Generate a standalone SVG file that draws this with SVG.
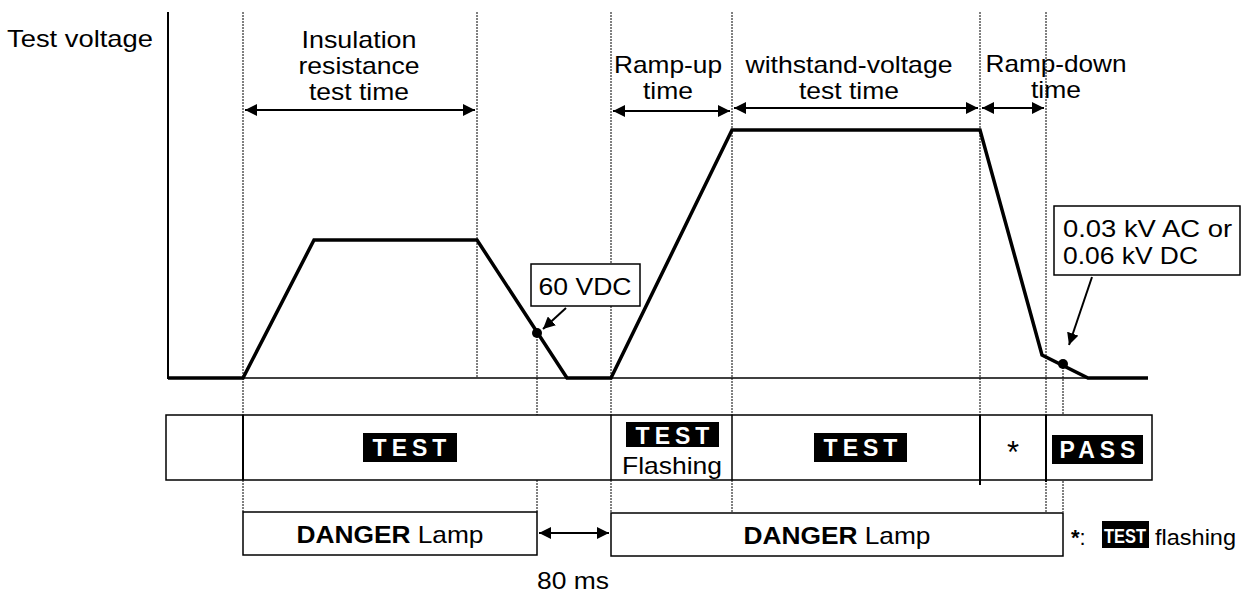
<svg xmlns="http://www.w3.org/2000/svg" width="1255" height="595" viewBox="0 0 1255 595">
<style>
text{font-family:"Liberation Sans",Arial,sans-serif;fill:#000}
.t{font-size:24px}
.c{text-anchor:middle}
.b{font-weight:bold}
.inv{fill:#fff;font-weight:bold;font-size:23px;letter-spacing:5px}
.dash{stroke:#000;stroke-width:1;stroke-dasharray:2 1;fill:none}
.thin{stroke:#000;stroke-width:1.5;fill:none}
.wave{stroke:#000;stroke-width:3.5;fill:none;stroke-linejoin:miter}
.box{fill:#fff;stroke:#000;stroke-width:1.5}
.dim{stroke:#000;stroke-width:2;fill:none;marker-start:url(#ah);marker-end:url(#ah)}
.lead{stroke:#000;stroke-width:2;fill:none;marker-end:url(#ah)}
</style>
<defs>
<marker id="ah" viewBox="0 0 10 10" refX="10" refY="5" markerWidth="6" markerHeight="6" orient="auto-start-reverse" markerUnits="strokeWidth">
<path d="M0,0 L10,5 L0,10 z" fill="#000"/>
</marker>
</defs>
<rect width="1255" height="595" fill="#fff"/>

<g id="guides">
<line class="dash" x1="243" y1="12" x2="243" y2="512"/>
<line class="dash" x1="477" y1="12" x2="477" y2="378"/>
<line class="dash" x1="537" y1="333" x2="537" y2="512"/>
<line class="dash" x1="611" y1="12" x2="611" y2="512"/>
<line class="dash" x1="732" y1="12" x2="732" y2="512"/>
<line class="dash" x1="980" y1="12" x2="980" y2="415"/>
<line class="dash" x1="1046" y1="12" x2="1046" y2="512"/>
<line class="dash" x1="1063" y1="364" x2="1063" y2="512"/>
</g>

<g id="axes">
<line x1="168" y1="12" x2="168" y2="379" stroke="#000" stroke-width="2"/>
<line class="thin" x1="168" y1="378" x2="1148" y2="378"/>
<text class="t" x="7" y="47" textLength="146" lengthAdjust="spacingAndGlyphs">Test voltage</text>
</g>

<g id="waveform">
<polyline class="wave" points="168,378 243,378 314,240 477,240 567,378 611,378 732,130 980,130 1042,355 1088,378 1148,378"/>
<circle cx="537" cy="333" r="5"/>
<circle cx="1063" cy="364" r="5"/>
</g>

<g id="connectors">
<line class="dim" x1="245" y1="110" x2="475" y2="110"/>
<line class="dim" x1="613" y1="111" x2="730" y2="111"/>
<line class="dim" x1="734" y1="108" x2="978" y2="108"/>
<line class="dim" x1="982" y1="108" x2="1044" y2="108"/>
<line class="lead" x1="566" y1="308" x2="543" y2="329"/>
<line class="lead" x1="1092" y1="277" x2="1069" y2="345"/>
<line class="dim" x1="539" y1="533" x2="609" y2="533"/>
</g>

<g id="label-ir">
<text class="t c" x="359" y="48" textLength="115" lengthAdjust="spacingAndGlyphs">Insulation</text>
<text class="t c" x="359" y="74" textLength="121" lengthAdjust="spacingAndGlyphs">resistance</text>
<text class="t c" x="359" y="100" textLength="100" lengthAdjust="spacingAndGlyphs">test time</text>
</g>
<g id="label-rampup">
<text class="t c" x="668" y="73" textLength="108" lengthAdjust="spacingAndGlyphs">Ramp-up</text>
<text class="t c" x="668" y="99" textLength="50" lengthAdjust="spacingAndGlyphs">time</text>
</g>
<g id="label-withstand">
<text class="t c" x="849" y="73" textLength="207" lengthAdjust="spacingAndGlyphs">withstand-voltage</text>
<text class="t c" x="849" y="99" textLength="100" lengthAdjust="spacingAndGlyphs">test time</text>
</g>
<g id="label-rampdown">
<text class="t c" x="1056" y="72" textLength="141" lengthAdjust="spacingAndGlyphs">Ramp-down</text>
<text class="t c" x="1056" y="98" textLength="50" lengthAdjust="spacingAndGlyphs">time</text>
</g>

<g id="note-60vdc">
<rect class="box" x="531" y="264" width="109" height="42"/>
<text class="t c" x="585" y="295" textLength="93" lengthAdjust="spacingAndGlyphs">60 VDC</text>
</g>
<g id="note-threshold">
<rect class="box" x="1054" y="206" width="186" height="69"/>
<text class="t" x="1063" y="237" textLength="169" lengthAdjust="spacingAndGlyphs">0.03 kV AC or</text>
<text class="t" x="1063" y="264" textLength="135" lengthAdjust="spacingAndGlyphs">0.06 kV DC</text>
</g>

<g id="status-bar">
<rect class="box" x="166" y="415" width="986" height="65"/>
<line stroke="#000" stroke-width="2" x1="243" y1="415" x2="243" y2="480"/>
<line stroke="#000" stroke-width="1.5" x1="611" y1="415" x2="611" y2="480"/>
<line stroke="#000" stroke-width="1.5" x1="732" y1="415" x2="732" y2="480"/>
<line stroke="#000" stroke-width="2" x1="980" y1="415" x2="980" y2="485"/>
<line stroke="#000" stroke-width="2" x1="1046" y1="415" x2="1046" y2="482"/>
</g>
<g id="status-test1">
<rect x="363" y="433" width="94" height="29" fill="#000"/>
<text class="inv c" x="412" y="456">TEST</text>
</g>
<g id="status-test2">
<rect x="626" y="422" width="93" height="25" fill="#000"/>
<text class="inv c" x="675" y="444">TEST</text>
<text class="t c" x="672" y="474" textLength="100" lengthAdjust="spacingAndGlyphs">Flashing</text>
</g>
<g id="status-test3">
<rect x="814" y="433" width="93" height="29" fill="#000"/>
<text class="inv c" x="863" y="456">TEST</text>
</g>
<g id="status-star">
<text class="c" x="1013" y="463" font-size="31">*</text>
</g>
<g id="status-pass">
<rect x="1052" y="435" width="91" height="29" fill="#000"/>
<text class="inv c" x="1100" y="458">PASS</text>
</g>

<g id="lamp1">
<rect class="box" x="243" y="512" width="294" height="43"/>
<text class="t c" x="390" y="543" textLength="187" lengthAdjust="spacingAndGlyphs"><tspan class="b">DANGER</tspan> Lamp</text>
</g>
<g id="lamp2">
<rect class="box" x="611" y="513" width="452" height="43"/>
<text class="t c" x="837" y="544" textLength="187" lengthAdjust="spacingAndGlyphs"><tspan class="b">DANGER</tspan> Lamp</text>
</g>
<g id="label-80ms">
<text class="t c" x="573" y="589" textLength="72" lengthAdjust="spacingAndGlyphs">80 ms</text>
</g>
<g id="legend">
<text x="1071" y="545" font-size="22"><tspan font-weight="bold">*</tspan>:</text>
<rect x="1102" y="521" width="47" height="27" fill="#000"/>
<text x="1125" y="543" font-size="20" class="c" textLength="42" lengthAdjust="spacingAndGlyphs" style="fill:#fff;font-weight:bold">TEST</text>
<text x="1155" y="545" font-size="22" textLength="81" lengthAdjust="spacingAndGlyphs">flashing</text>
</g>
</svg>
